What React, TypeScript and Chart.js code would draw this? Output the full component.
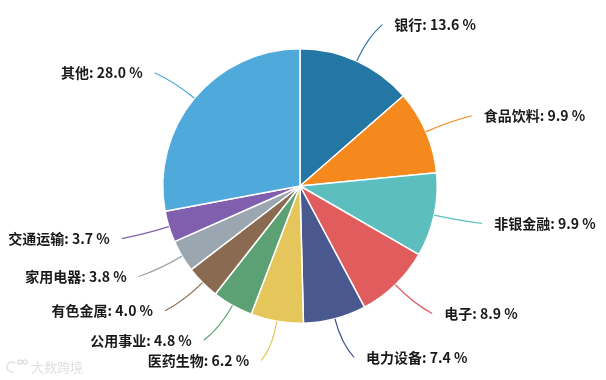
import React, { useEffect, useRef } from "react";
import { Chart, registerables } from "chart.js";

Chart.register(...registerables);

const categories = ["银行", "食品饮料", "非银金融", "电子", "电力设备", "医药生物", "公用事业", "有色金属", "家用电器", "交通运输", "其他"];
const values = [13.6, 9.9, 9.9, 8.9, 7.4, 6.2, 4.8, 4.0, 3.8, 3.7, 28.0];
const colors = ["#2477a5", "#f5891e", "#5cbebf", "#e05c5d", "#4a5890", "#e5c65b", "#5ba173", "#8a6b51", "#9ba7b0", "#805fae", "#4fa9db"];

const labelPlugin = {
  id: "outerLabels",
  afterDatasetsDraw(chart: any) {
    const ctx = chart.ctx;
    const meta = chart.getDatasetMeta(0);
    ctx.save();
    meta.data.forEach((arc: any, i: number) => {
      const { x, y, startAngle, endAngle, outerRadius } = arc.getProps(["x", "y", "startAngle", "endAngle", "outerRadius"], true);
      const mid = (startAngle + endAngle) / 2;
      const cx = Math.cos(mid);
      const cy = Math.sin(mid);
      const right = cx >= 0;
      const sx = x + cx * outerRadius;
      const sy = y + cy * outerRadius;
      const ctrlX = x + cx * (outerRadius + 26);
      const ctrlY = y + cy * (outerRadius + 26);
      const ex = x + cx * (outerRadius + 40) + (right ? 9 : -9);
      const ey = y + cy * (outerRadius + 40);
      ctx.strokeStyle = colors[i];
      ctx.lineWidth = 1.2;
      ctx.beginPath();
      ctx.moveTo(sx, sy);
      ctx.quadraticCurveTo(ctrlX, ctrlY, ex, ey);
      ctx.stroke();
      ctx.fillStyle = "#1a1a1a";
      ctx.font = "bold 14px 'Noto Sans CJK SC', sans-serif";
      ctx.textBaseline = "middle";
      ctx.textAlign = right ? "left" : "right";
      const text = `${categories[i]}: ${values[i].toFixed(1)} %`;
      ctx.fillText(text, ex + (right ? 12 : -12), ey);
    });
    // watermark
    ctx.fillStyle = "#e0e0e0";
    ctx.strokeStyle = "#e0e0e0";
    ctx.lineWidth = 1.5;
    ctx.beginPath();
    ctx.arc(12, 367, 5, Math.PI * 0.4, Math.PI * 1.7);
    ctx.stroke();
    ctx.beginPath();
    ctx.arc(20, 362, 2, 0, Math.PI * 2);
    ctx.stroke();
    ctx.beginPath();
    ctx.arc(25, 362, 2, 0, Math.PI * 2);
    ctx.stroke();
    ctx.font = "13px 'Noto Sans CJK SC', sans-serif";
    ctx.textAlign = "left";
    ctx.textBaseline = "middle";
    ctx.fillText("大数跨境", 31, 367);
    ctx.restore();
  },
};

export default function App() {
  const ref = useRef<HTMLCanvasElement>(null);
  useEffect(() => {
    if (!ref.current) return;
    const chart = new Chart(ref.current, {
      type: "pie",
      data: {
        labels: categories,
        datasets: [
          {
            data: values,
            backgroundColor: colors,
            borderColor: "#ffffff",
            borderWidth: 1.5,
          },
        ],
      },
      options: {
        responsive: false,
        animation: false,
        layout: { padding: { left: 162, right: 168, top: 48, bottom: 56 } },
        plugins: { legend: { display: false }, tooltip: { enabled: false } },
      },
      plugins: [labelPlugin],
    });
    return () => chart.destroy();
  }, []);
  return (
    <div style={{ position: "fixed", left: 0, top: 0, width: 606, height: 380, background: "#fff" }}>
      <canvas ref={ref} width={606} height={380} />
    </div>
  );
}
